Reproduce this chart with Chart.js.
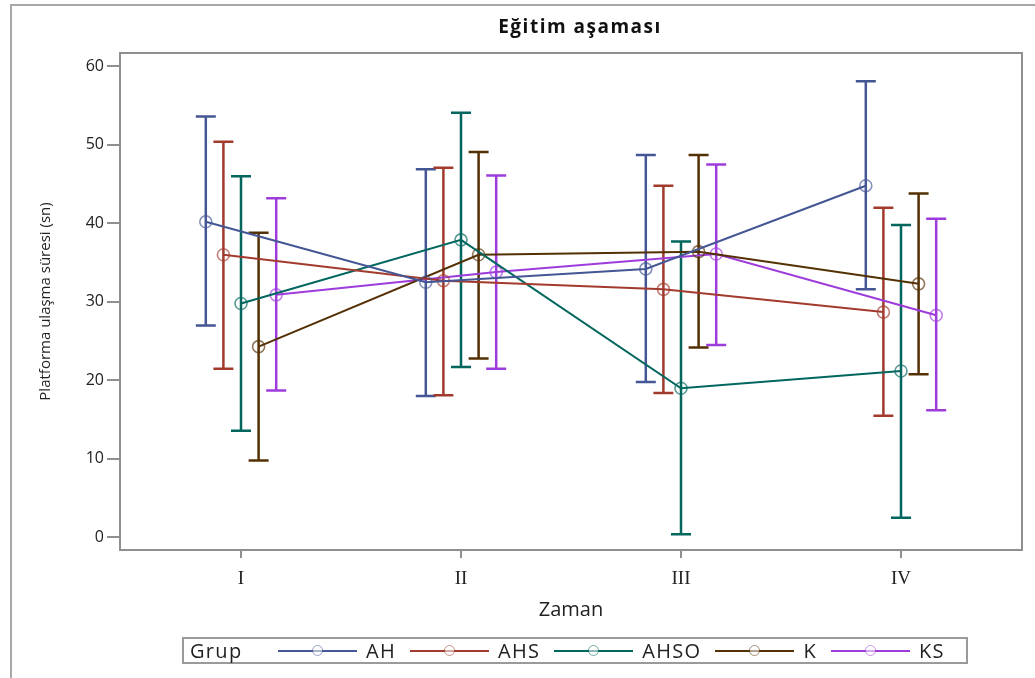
<!DOCTYPE html>
<html>
<head>
<meta charset="utf-8">
<script src="https://cdn.jsdelivr.net/npm/chart.js@4.4.1/dist/chart.umd.min.js"></script>
<style>
  html, body { margin: 0; padding: 0; background: #fff; }
  #wrap { position: relative; width: 1035px; height: 678px; overflow: hidden; }
  #frame { position: absolute; left: 10px; top: 4px; width: 1100px; height: 700px; border: 2px solid #a8a8a8; box-sizing: border-box; pointer-events: none; }
  #legend { position: absolute; left: 182px; top: 637px; width: 786px; height: 27px; border: 2px solid #9a9a9a; box-sizing: border-box;
            display: flex; align-items: center; font-family: "Open Sans", sans-serif; font-size: 20px; letter-spacing: 1.3px; color: #222; white-space: nowrap; }
  #legend .title { margin-left: 6px; width: 88px; }
  #legend .sw { position: relative; width: 79px; height: 2px; margin-right: 9px; flex: none; }
  #legend .sw i { position: absolute; left: 34px; top: -5px; width: 11px; height: 11px; border-radius: 50%; border: 1.5px solid; box-sizing: border-box; background: #fff; opacity: 0.55; }
  #legend .lb { margin-right: 14px; }
</style>
</head>
<body>
<div id="wrap">
  <canvas id="c" width="1035" height="678"></canvas>
  <div id="frame"></div>
  <div id="legend"></div>
</div>
<script>
// ---- Data ----
const categories = ['I', 'II', 'III', 'IV'];
const groups = ['AH', 'AHS', 'AHSO', 'K', 'KS'];
const colors = ['#445694', '#A23A2E', '#01665E', '#543005', '#9D3CDB'];

const ahMean   = [40.2, 32.5, 34.2, 44.8];
const ahLow    = [27.0, 18.0, 19.8, 31.6];
const ahHigh   = [53.6, 46.9, 48.7, 58.1];

const ahsMean  = [36.0, 32.7, 31.6, 28.7];
const ahsLow   = [21.5, 18.1, 18.4, 15.5];
const ahsHigh  = [50.4, 47.1, 44.8, 42.0];

const ahsoMean = [29.8, 37.9, 19.0, 21.2];
const ahsoLow  = [13.6, 21.7, 0.4, 2.5];
const ahsoHigh = [46.0, 54.1, 37.7, 39.8];

const kMean    = [24.3, 36.0, 36.4, 32.3];
const kLow     = [9.8, 22.8, 24.2, 20.8];
const kHigh    = [38.8, 49.1, 48.7, 43.8];

const ksMean   = [30.9, 33.8, 36.1, 28.3];
const ksLow    = [18.7, 21.5, 24.5, 16.2];
const ksHigh   = [43.2, 46.1, 47.5, 40.6];

const yTicks = [0, 10, 20, 30, 40, 50, 60];

const means = [ahMean, ahsMean, ahsoMean, kMean, ksMean];
const lows = [ahLow, ahsLow, ahsoLow, kLow, ksLow];
const highs = [ahHigh, ahsHigh, ahsoHigh, kHigh, ksHigh];

const dodge = 0.08;
const FONT = '"Open Sans", sans-serif';
const AXIS = '#8f8f8f';

function alpha(hex, a) {
  const n = parseInt(hex.slice(1), 16);
  return `rgba(${n >> 16}, ${(n >> 8) & 255}, ${n & 255}, ${a})`;
}

const datasets = groups.map((g, i) => ({
  label: g,
  data: means[i].map((v, j) => ({ x: j + 1 + (i - 2) * dodge, y: v })),
  low: lows[i],
  high: highs[i],
  showLine: true,
  borderColor: colors[i],
  borderWidth: 2,
  pointRadius: 6,
  pointHoverRadius: 6,
  pointBorderWidth: 1.6,
  pointBorderColor: alpha(colors[i], 0.65),
  pointBackgroundColor: 'rgba(0,0,0,0)',
  tension: 0
}));

// ---- Error bars, frame and title ----
const extras = {
  id: 'extras',
  beforeDatasetsDraw(chart) {
    const { ctx, scales: { x, y } } = chart;
    ctx.save();
    chart.data.datasets.forEach(ds => {
      ctx.strokeStyle = ds.borderColor;
      ctx.lineWidth = 2.5;
      ds.data.forEach((p, j) => {
        const px = x.getPixelForValue(p.x);
        const yl = y.getPixelForValue(ds.low[j]);
        const yh = y.getPixelForValue(ds.high[j]);
        ctx.beginPath();
        ctx.moveTo(px, yl); ctx.lineTo(px, yh);
        ctx.moveTo(px - 10, yl); ctx.lineTo(px + 10, yl);
        ctx.moveTo(px - 10, yh); ctx.lineTo(px + 10, yh);
        ctx.stroke();
      });
    });
    ctx.restore();
  },
  afterDraw(chart) {
    const { ctx, chartArea: a } = chart;
    ctx.save();
    ctx.strokeStyle = AXIS;
    ctx.lineWidth = 2;
    ctx.strokeRect(a.left, a.top, a.right - a.left, a.bottom - a.top);
    ctx.fillStyle = '#111';
    ctx.font = 'bold 19px ' + FONT;
    ctx.letterSpacing = '1.5px';
    ctx.textAlign = 'center';
    ctx.textBaseline = 'middle';
    ctx.fillText('Eğitim aşaması', (a.left + a.right) / 2 + 9, 28);
    ctx.restore();
  }
};

new Chart(document.getElementById('c'), {
  type: 'scatter',
  data: { datasets },
  options: {
    responsive: false,
    animation: false,
    layout: { padding: { top: 53, right: 13, bottom: 56, left: 30 } },
    plugins: { legend: { display: false }, tooltip: { enabled: false } },
    scales: {
      x: {
        type: 'linear',
        min: 0.45,
        max: 4.55,
        afterBuildTicks: s => { s.ticks = categories.map((c, i) => ({ value: i + 1 })); },
        afterFit: s => { s.height = 72; },
        ticks: {
          callback: v => categories[v - 1] || '',
          color: '#222',
          font: { family: '"Liberation Serif", serif', size: 19 },
          padding: 10
        },
        grid: { drawOnChartArea: false, drawTicks: true, tickLength: 8, color: AXIS, lineWidth: 2 },
        border: { display: true, color: AXIS, width: 2 },
        title: { display: true, text: 'Zaman', color: '#222', font: { family: FONT, size: 20 }, padding: { top: 0, bottom: 0 } }
      },
      y: {
        min: -1.6,
        max: 61.7,
        afterBuildTicks: s => { s.ticks = yTicks.map(v => ({ value: v })); },
        afterFit: s => { s.width = 90; },
        ticks: { color: '#222', font: { family: FONT, size: 16 }, padding: 3 },
        grid: { drawOnChartArea: false, drawTicks: true, tickLength: 13, color: AXIS, lineWidth: 2 },
        border: { display: true, color: AXIS, width: 2 },
        title: { display: true, text: 'Platforma ulaşma süresi (sn)', color: '#222', font: { family: FONT, size: 15 }, padding: { top: 7, bottom: 0 } }
      }
    }
  },
  plugins: [extras]
});

// ---- Legend ----
const legend = document.getElementById('legend');
legend.innerHTML = '<span class="title">Grup</span>' + groups.map((g, i) =>
  `<span class="sw" style="background:${colors[i]}"><i style="border-color:${colors[i]}"></i></span><span class="lb">${g}</span>`
).join('');
</script>
</body>
</html>
